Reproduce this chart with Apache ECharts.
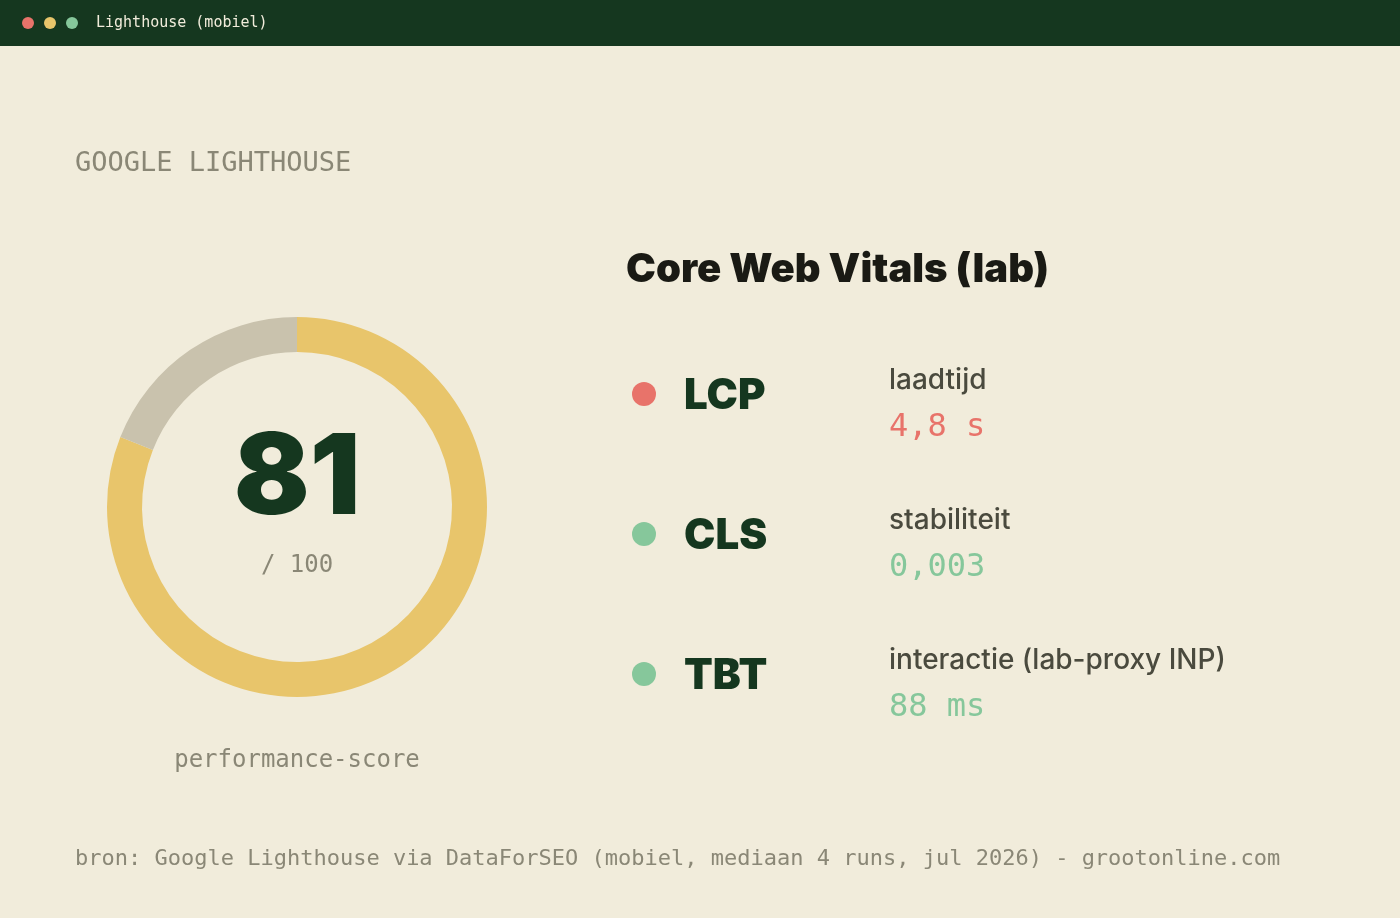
<!DOCTYPE html>
<html><head><meta charset="utf-8">
<script src="https://cdn.jsdelivr.net/npm/echarts@6/dist/echarts.min.js"></script>
<style>html,body{margin:0;padding:0;background:#f1ecdb}#c{width:1400px;height:918px}</style>
</head><body><div id="c"></div>
<script>
const score = 81;
const scoreMax = 100;
const metricNames = ['LCP', 'CLS', 'TBT'];
const metricDescs = ['laadtijd', 'stabiliteit', 'interactie (lab-proxy INP)'];
const metricValues = ['4,8 s', '0,003', '88 ms'];
const metricStatus = ['poor', 'good', 'good'];

const mono = '"DejaVu Sans Mono", "Liberation Mono", monospace';
const sans = 'Inter, "Noto Sans", sans-serif';
const statusColor = {poor: '#e8736a', good: '#86c79b'};

const chart = echarts.init(document.getElementById('c'));
const g = [
  {type:'rect', shape:{x:0,y:0,width:1400,height:46}, style:{fill:'#15371f'}},
  {type:'circle', shape:{cx:28,cy:23,r:6}, style:{fill:'#e8736a'}},
  {type:'circle', shape:{cx:50,cy:23,r:6}, style:{fill:'#e8c56b'}},
  {type:'circle', shape:{cx:72,cy:23,r:6}, style:{fill:'#86c79b'}},
  {type:'text', x:96, y:23, style:{text:'Lighthouse (mobiel)', font:'15px '+mono, fill:'#f1ecdb', verticalAlign:'middle'}},
  {type:'text', x:75, y:164, style:{text:'GOOGLE LIGHTHOUSE', font:'27px '+mono, fill:'#8a8776', verticalAlign:'middle'}},
  {type:'text', x:626, y:270, style:{text:'Core Web Vitals (lab)', font:'900 40px '+sans, fill:'#1a1a14', verticalAlign:'middle'}},
  {type:'text', x:297, y:480, style:{text:String(score), font:'900 112px '+sans, fill:'#15371f', align:'center', verticalAlign:'middle'}},
  {type:'text', x:297, y:566, style:{text:'/ '+scoreMax, font:'24px '+mono, fill:'#8a8776', align:'center', verticalAlign:'middle'}},
  {type:'text', x:297, y:761, style:{text:'performance-score', font:'24px '+mono, fill:'#8a8776', align:'center', verticalAlign:'middle'}},
  {type:'text', x:75, y:859, style:{text:'bron: Google Lighthouse via DataForSEO (mobiel, mediaan 4 runs, jul 2026) - grootonline.com', font:'22px '+mono, fill:'#8a8776', verticalAlign:'middle'}}
];
metricNames.forEach((n,i)=>{
  const y = 394 + i*140;
  const c = statusColor[metricStatus[i]];
  g.push({type:'circle', shape:{cx:644,cy:y,r:12}, style:{fill:c}});
  g.push({type:'text', x:684, y:y+2, style:{text:n, font:'900 42px '+sans, fill:'#15371f', verticalAlign:'middle'}});
  g.push({type:'text', x:889, y:y-13, style:{text:metricDescs[i], font:'500 28px '+sans, fill:'#4a4a3e', verticalAlign:'middle'}});
  g.push({type:'text', x:889, y:y+34, style:{text:metricValues[i], font:'32px '+mono, fill:c, verticalAlign:'middle'}});
});
chart.setOption({
  backgroundColor:'#f1ecdb',
  animation:false,
  series:[{type:'pie', center:[297,507], radius:[155,190], startAngle:90, clockwise:true,
    label:{show:false}, labelLine:{show:false}, silent:true,
    data:[{value:score, itemStyle:{color:'#e8c56b'}},{value:scoreMax-score, itemStyle:{color:'#c9c2ad'}}]}],
  graphic:g
});
</script></body></html>
